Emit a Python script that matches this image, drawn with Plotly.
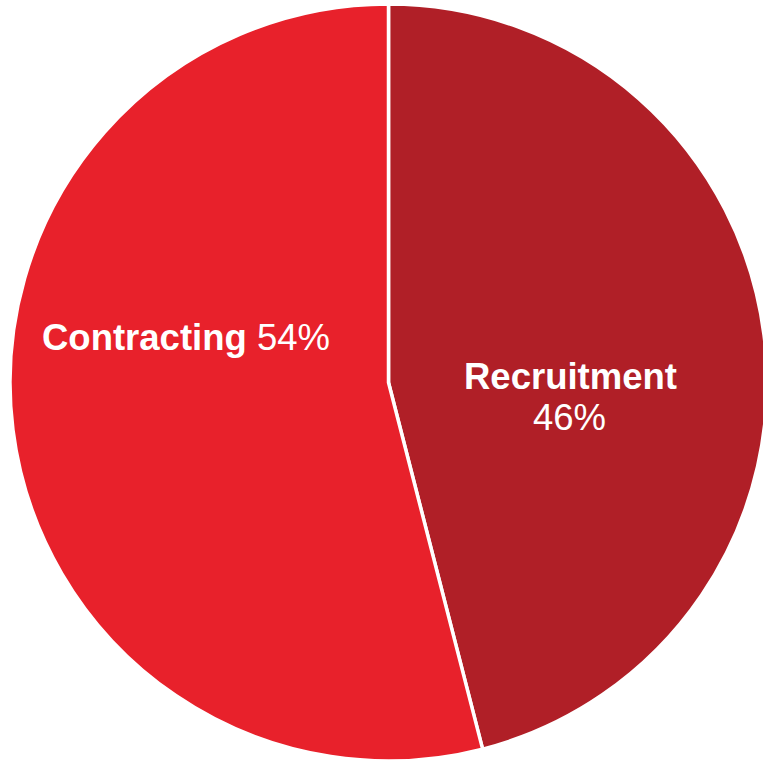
import plotly.graph_objects as go

labels = ["Recruitment", "Contracting"]
values = [46, 54]
colors = ["#B01F27", "#E8212B"]

W, H = 767, 761  # slightly wider than the window: the pie is clipped at the right like the reference

def px(sx):
    return sx / W

def py(sy):
    return 1 - sy / H

fig = go.Figure(go.Pie(
    labels=labels,
    values=values,
    textinfo="none",
    sort=False,
    direction="clockwise",
    rotation=0,
    marker=dict(colors=colors, line=dict(color="white", width=3.5)),
    domain=dict(x=[10 / W, 1], y=[0, 1 - 4 / H]),
    showlegend=False,
    hoverinfo="label+percent",
))

font = dict(family="Liberation Sans, Arial, sans-serif", size=36.5, color="white")

fig.add_annotation(x=px(570), y=py(376), xref="paper", yref="paper",
                   text=f"<b>{labels[0]}</b>", showarrow=False, font=font,
                   xanchor="center", yanchor="middle")
fig.add_annotation(x=px(569), y=py(417), xref="paper", yref="paper",
                   text=f"{values[0]}%", showarrow=False, font=font,
                   xanchor="center", yanchor="middle")
fig.add_annotation(x=px(186), y=py(337), xref="paper", yref="paper",
                   text=f"<b>{labels[1]}</b> {values[1]}%", showarrow=False, font=font,
                   xanchor="center", yanchor="middle")

fig.update_layout(
    width=W, height=H,
    margin=dict(l=0, r=0, t=0, b=0),
    paper_bgcolor="white",
    plot_bgcolor="white",
)

fig.write_html(
    "out.html",
    config={"displayModeBar": False},
    post_script="document.body.style.margin='0';document.body.style.overflow='hidden';",
)
